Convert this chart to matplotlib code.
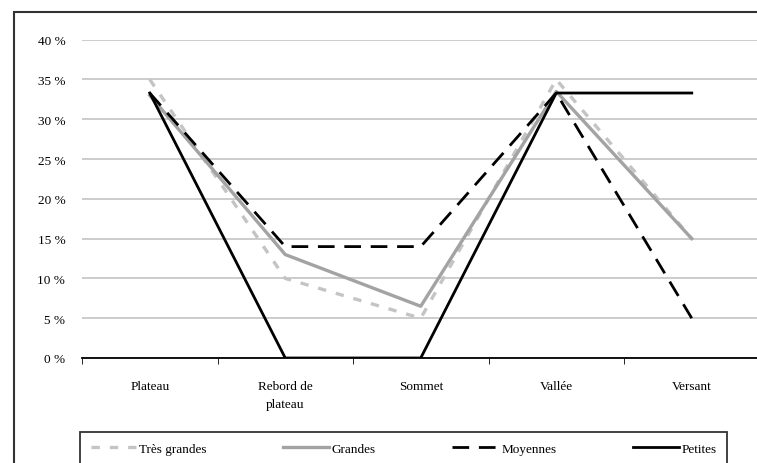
import matplotlib
matplotlib.use('Agg')
import matplotlib.pyplot as plt
from matplotlib.patches import Rectangle
from matplotlib.ticker import FuncFormatter, FixedLocator

# data
categories = ['Plateau', 'Rebord de\nplateau', 'Sommet', 'Vallée', 'Versant']
tres_grandes = [35, 10, 5, 35, 15]
grandes = [33, 13, 6.5, 33.5, 15]
moyennes = [33.3, 14, 14, 33.3, 5]
petites = [33.3, 0, 0, 33.3, 33.3]
y_ticks = [0, 5, 10, 15, 20, 25, 30, 35, 40]

plt.rcParams['font.family'] = ['Liberation Serif', 'DejaVu Serif']

W, H = 757, 464
fig = plt.figure(figsize=(W / 100, H / 100), dpi=100)

# outer frame of the chart (runs off the right and bottom edges)
fig.patches.append(Rectangle((14 / W, -0.1), 1.2, 1 - 13 / H + 0.1, transform=fig.transFigure,
                             fill=False, edgecolor='#333333', linewidth=1.5, zorder=0))

ax = fig.add_axes([82 / W, 1 - 359 / H, (759.5 - 82) / W, (359 - 40.7) / H])
x = list(range(len(categories)))

ax.plot(x, tres_grandes, color='#c4c4c4', linewidth=2.4, dashes=(2.5, 3), label='Très grandes', zorder=3)
ax.plot(x, grandes, color='#a3a3a3', linewidth=2.4, label='Grandes', zorder=4)
ax.plot(x, moyennes, color='black', linewidth=2.0, dashes=(6, 3.5), label='Moyennes', zorder=5)
ax.plot(x, petites, color='black', linewidth=2.0, label='Petites', zorder=6)

ax.set_xlim(-0.5, len(categories) - 0.5)
ax.set_ylim(0, 40)
ax.set_yticks(y_ticks)
ax.yaxis.set_major_formatter(FuncFormatter(lambda v, p: f'{int(v)} %'))
ax.grid(axis='y', color='#c8c8c8', linewidth=1.3)
ax.set_axisbelow(True)

ax.set_xticks(x)
ax.set_xticklabels(categories, fontsize=9.5, linespacing=1.6)
ax.xaxis.set_minor_locator(FixedLocator([i - 0.5 for i in range(len(categories) + 1)]))
ax.tick_params(axis='x', which='major', length=0, pad=16)
ax.tick_params(axis='x', which='minor', length=4, direction='out', color='black')
ax.tick_params(axis='y', length=0, pad=12, labelsize=9.5)

for s in ['left', 'right', 'top']:
    ax.spines[s].set_visible(False)
ax.spines['bottom'].set_color('black')
ax.spines['bottom'].set_linewidth(1.3)

leg = fig.legend(loc='upper left', bbox_to_anchor=(80 / W, 0, (727 - 80) / W, 1 - 433 / H),
                 mode='expand', ncol=4, frameon=True, fancybox=False, fontsize=9.5,
                 handlelength=3.5, borderaxespad=0, borderpad=0.8, handletextpad=0.2)
leg.get_frame().set_edgecolor('black')
leg.get_frame().set_linewidth(1.3)

fig.savefig('out.png', dpi=100)
